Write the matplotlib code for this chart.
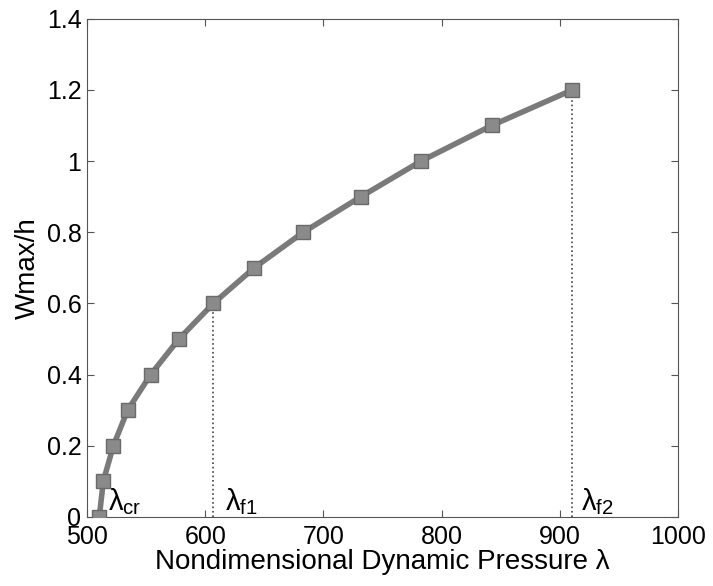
import matplotlib
matplotlib.use('Agg')
import matplotlib.pyplot as plt

plt.rcParams['font.family'] = ['Liberation Sans', 'DejaVu Sans']
plt.rcParams['mathtext.fontset'] = 'custom'
plt.rcParams['mathtext.rm'] = 'Liberation Sans'
plt.rcParams['mathtext.it'] = 'Liberation Sans'

lam = [510.4, 513.8, 522.3, 534.4, 553.9, 577.8, 606.9, 641.5, 683.0,
       731.8, 782.6, 842.4, 910.6]
wmax = [0.0, 0.1, 0.2, 0.3, 0.4, 0.5, 0.6, 0.7, 0.8, 0.9, 1.0, 1.1, 1.2]

lam_f1 = 606.9
lam_f2 = 910.6

fig = plt.figure(figsize=(7.13, 5.86), dpi=100)
ax = fig.add_axes([0.122, 0.118, 0.829, 0.850])

ax.plot([lam_f1, lam_f1], [0, 0.6], ls=':', color='#444444', lw=1.2)
ax.plot([lam_f2, lam_f2], [0, 1.2], ls=':', color='#444444', lw=1.2)
ax.plot(lam, wmax, color='#7a7a7a', lw=4, marker='s', ms=10,
        mfc='#8a8a8a', mec='#6a6a6a', zorder=3)

ax.text(518, 0.02, r'$\lambda_{\rm cr}$', fontsize=21)
ax.text(617, 0.02, r'$\lambda_{\rm f1}$', fontsize=21)
ax.text(918, 0.02, r'$\lambda_{\rm f2}$', fontsize=21)

ax.set_xlim(500, 1000)
ax.set_ylim(0, 1.4)
ax.set_xticks([500, 600, 700, 800, 900, 1000])
ax.set_yticks([0, 0.2, 0.4, 0.6, 0.8, 1, 1.2, 1.4])
ax.set_yticklabels(['0', '0.2', '0.4', '0.6', '0.8', '1', '1.2', '1.4'])
ax.tick_params(direction='in', top=True, right=True, labelsize=18,
               length=5, color='#555555')
ax.tick_params(axis='x', pad=6)
ax.tick_params(axis='y', pad=4)
for s in ax.spines.values():
    s.set_color('#555555')

ax.set_xlabel('Nondimensional Dynamic Pressure λ', fontsize=20, labelpad=0)
ax.set_ylabel('Wmax/h', fontsize=20, labelpad=4)

fig.savefig('out.png', dpi=100)
